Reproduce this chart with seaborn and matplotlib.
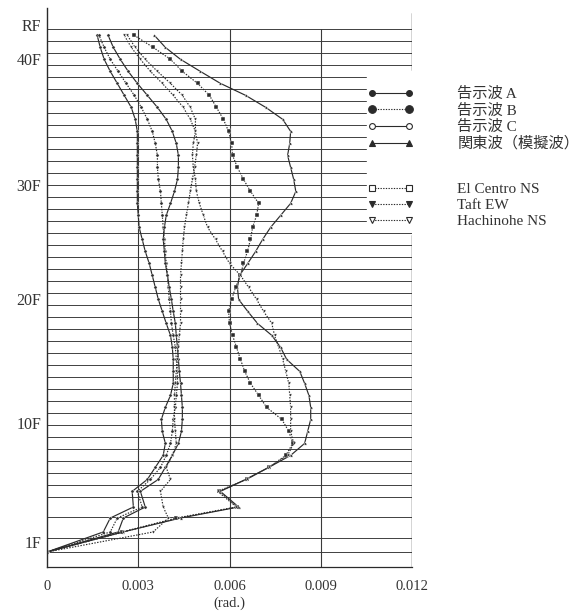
import numpy as np
import pandas as pd
import matplotlib
matplotlib.use("Agg")
import matplotlib.pyplot as plt
from matplotlib.lines import Line2D
from matplotlib.transforms import ScaledTranslation
import seaborn as sns

# Floor elevations (1F = 0, in typical-story units); the lower stories are taller
floor_names = [f"{n}F" for n in range(1, 43)] + ["RF"]
floor_elev = [0.0, 1.17, 2.92] + [n + 0.55 for n in range(4, 44)]

# Heights at which each story's drift is plotted: base, then stories 1..42
heights = [0.0, 1.67, 2.83, 3.75] + [k + 1.05 for k in range(4, 43)]

# Story drift angle (x 1e-3 rad), from the base up to story 42
kokuji_a = [0, 1.85, 2.08, 2.84, 2.80, 3.30, 3.56, 3.82, 3.89, 3.79, 3.76, 3.89, 4.06, 4.15, 4.15,
            4.15, 4.12, 4.06, 3.92, 3.79, 3.66, 3.56, 3.46, 3.36, 3.23, 3.13, 3.03, 3.00, 2.97, 2.97,
            2.97, 2.97, 2.97, 2.97, 2.97, 2.90, 2.77, 2.54, 2.31, 2.08, 1.88, 1.75, 1.65]
kokuji_b = [0, 2.08, 2.31, 3.13, 2.97, 3.40, 3.73, 3.92, 4.06, 4.12, 4.15, 4.22, 4.25, 4.29, 4.29,
            4.25, 4.22, 4.15, 4.09, 4.06, 4.02, 3.99, 3.96, 3.92, 3.89, 3.86, 3.82, 3.79, 3.76, 3.73,
            3.66, 3.63, 3.63, 3.56, 3.46, 3.30, 3.10, 2.87, 2.60, 2.34, 2.08, 1.88, 1.71]
kokuji_c = [0, 2.34, 2.51, 3.23, 3.07, 3.66, 3.89, 4.12, 4.32, 4.42, 4.45, 4.45, 4.42, 4.39, 4.35,
            4.32, 4.29, 4.25, 4.22, 4.15, 4.09, 4.02, 3.96, 3.89, 3.86, 3.82, 3.86, 3.92, 4.06, 4.19,
            4.29, 4.32, 4.32, 4.25, 4.12, 3.92, 3.63, 3.30, 2.97, 2.67, 2.41, 2.18, 2.01]
kanto = [0, 2.50, 4.39, 6.30, 5.70, 6.53, 7.29, 8.01, 8.47, 8.57, 8.67, 8.67, 8.61, 8.47, 8.31,
         7.88, 7.68, 7.39, 6.92, 6.60, 6.30, 6.26, 6.33, 6.60, 6.86, 7.09, 7.35, 7.68, 8.01, 8.18,
         8.11, 8.01, 7.91, 7.98, 8.01, 7.75, 7.19, 6.53, 5.70, 5.04, 4.39, 3.89, 3.53]
el_centro = [0, 2.47, 4.25, 6.26, 5.67, 6.56, 7.29, 7.85, 8.08, 7.95, 7.72, 7.22, 6.96, 6.69, 6.50,
             6.36, 6.23, 6.10, 6.00, 5.97, 6.07, 6.20, 6.36, 6.46, 6.59, 6.69, 6.76, 6.89, 6.96, 6.69,
             6.46, 6.26, 6.10, 6.07, 5.97, 5.80, 5.57, 5.34, 4.95, 4.45, 4.06, 3.49, 2.87]
taft = [0, 2.50, 4.32, 6.23, 5.61, 6.56, 7.29, 7.91, 8.11, 8.01, 8.01, 8.01, 7.98, 7.95, 7.85,
        7.75, 7.62, 7.48, 7.39, 7.12, 6.89, 6.63, 6.36, 6.00, 5.77, 5.54, 5.28, 5.14, 5.01, 4.91,
        4.88, 4.81, 4.78, 4.81, 4.88, 4.88, 4.71, 4.45, 4.06, 3.63, 3.23, 2.90, 2.64]
hachinohe = [0, 3.49, 3.99, 3.82, 3.73, 4.06, 3.92, 4.12, 4.25, 4.22, 4.19, 4.19, 4.19, 4.22, 4.25,
             4.29, 4.32, 4.35, 4.39, 4.39, 4.39, 4.39, 4.39, 4.42, 4.45, 4.48, 4.52, 4.58, 4.65, 4.71,
             4.78, 4.85, 4.91, 4.95, 4.88, 4.71, 4.48, 4.15, 3.79, 3.40, 3.07, 2.77, 2.54]

names = ["告示波 A", "告示波 B", "告示波 C", "関東波（模擬波）", "El Centro NS", "Taft EW", "Hachinohe NS"]
series = [kokuji_a, kokuji_b, kokuji_c, kanto, el_centro, taft, hachinohe]

# Labelled floors and x ticks
labelled_floors = ["1F", "10F", "20F", "30F", "40F", "RF"]
x_ticks = [0, 0.003, 0.006, 0.009, 0.012]
x_tick_labels = ["0", "0.003", "0.006", "0.009", "0.012"]

frames = []
for name, vals in zip(names, series):
    frames.append(pd.DataFrame({"wave": name, "height": heights,
                                "drift": np.array(vals) * 1e-3}))
df = pd.concat(frames, ignore_index=True)

ink = "#2b2b2b"
markers = {names[0]: "o", names[1]: "o", names[2]: "o", names[3]: "^",
           names[4]: "s", names[5]: "v", names[6]: "v"}
dashes = {names[0]: "", names[1]: (1.2, 1.2), names[2]: "", names[3]: "",
          names[4]: (1.2, 1.2), names[5]: (1.2, 1.2), names[6]: (1.2, 1.2)}
fills = {names[0]: ink, names[1]: ink, names[2]: "white", names[3]: ink,
         names[4]: "white", names[5]: ink, names[6]: "white"}
legend_sizes = {names[0]: 4.2, names[1]: 5.5, names[2]: 4.2, names[3]: 4.2,
                names[4]: 4.5, names[5]: 4.5, names[6]: 4.5}

sns.set_theme(style="white")
plt.rcParams["font.family"] = ["Liberation Serif", "DejaVu Serif"]

fig = plt.figure(figsize=(5.88, 6.14), dpi=100)
ax = fig.add_axes([47 / 588, 1 - 567 / 614, 365 / 588, 559 / 614])

sns.lineplot(data=df, x="drift", y="height", hue="wave", style="wave",
             palette={n: ink for n in names}, markers=markers, dashes=dashes,
             sort=False, orient="y", estimator=None, legend=False,
             linewidth=0.85, markersize=2.3, markeredgewidth=0.3, ax=ax)

y_low, y_high = -1.25, 45.33
ax.set_xlim(0, 0.012)
ax.set_ylim(y_low, y_high)

# Floor lines; the ones beside the legend stop short
top_floor = floor_elev[-1]
for n, lv in enumerate(floor_elev, start=1):
    x_end = 0.0105 if 27 <= n <= 39 else 0.012
    ax.plot([0, x_end], [lv, lv], color="#404040", lw=0.7, zorder=1)
for xv in [0.003, 0.006, 0.009]:
    ax.plot([xv, xv], [y_low, top_floor], color="#3a3a3a", lw=0.8, zorder=1)
ax.plot([0.012, 0.012], [40.2, 44.9], color="#2a2a2a", lw=1.0, zorder=1)
ax.plot([0.012, 0.012], [y_low, 26.4], color="#2a2a2a", lw=1.0, zorder=1)

for s in ["top", "right"]:
    ax.spines[s].set_visible(False)
ax.spines["left"].set_color("#2a2a2a")
ax.spines["bottom"].set_color("#2a2a2a")
ax.spines["left"].set_linewidth(1.0)
ax.spines["bottom"].set_linewidth(0.9)

ax.set_xticks(x_ticks)
ax.set_xticklabels(x_tick_labels, fontsize=10.5, color="#333333")
ax.set_yticks([floor_elev[floor_names.index(f)] for f in labelled_floors])
ax.set_yticklabels(labelled_floors, fontsize=11.5, color="#333333")
ax.tick_params(axis="y", length=0, pad=4)
ax.tick_params(axis="x", length=0, pad=9)
# Floor labels sit a little above their floor lines (lift in pixels)
label_lift = {"1F": 9.5, "10F": 2.5, "20F": 6.5, "30F": 0.5, "40F": 6.5, "RF": 4.5}
for lab in ax.get_yticklabels():
    shift = ScaledTranslation(0, label_lift[lab.get_text()] / 100, fig.dpi_scale_trans)
    lab.set_transform(lab.get_transform() + shift)
ax.set_xlabel("(rad.)", fontsize=10.5, color="#333333", labelpad=3)
ax.set_ylabel("")
ax.grid(False)

handles = []
for n in names:
    handles.append(Line2D([0], [0], color=ink, lw=0.8,
                          linestyle="-" if dashes[n] == "" else (0, dashes[n]),
                          marker=markers[n], markersize=legend_sizes[n],
                          markerfacecolor=fills[n], markeredgecolor=ink,
                          markeredgewidth=0.8))
leg_font = {"family": ["Liberation Serif", "Noto Sans CJK JP"], "size": 11}
leg_kw = dict(loc="upper left", frameon=False, handlelength=3.0, handletextpad=2.85,
              labelspacing=0.15, numpoints=2, prop=leg_font)
leg1 = ax.legend(handles[:4], names[:4], bbox_to_anchor=(0.8415, 0.883), **leg_kw)
ax.add_artist(leg1)
leg2 = ax.legend(handles[4:], names[4:], bbox_to_anchor=(0.8415, 0.713), **leg_kw)
for lg in (leg1, leg2):
    for t in lg.get_texts():
        t.set_color("#333333")

fig.savefig("out.png", dpi=100, facecolor="white")
